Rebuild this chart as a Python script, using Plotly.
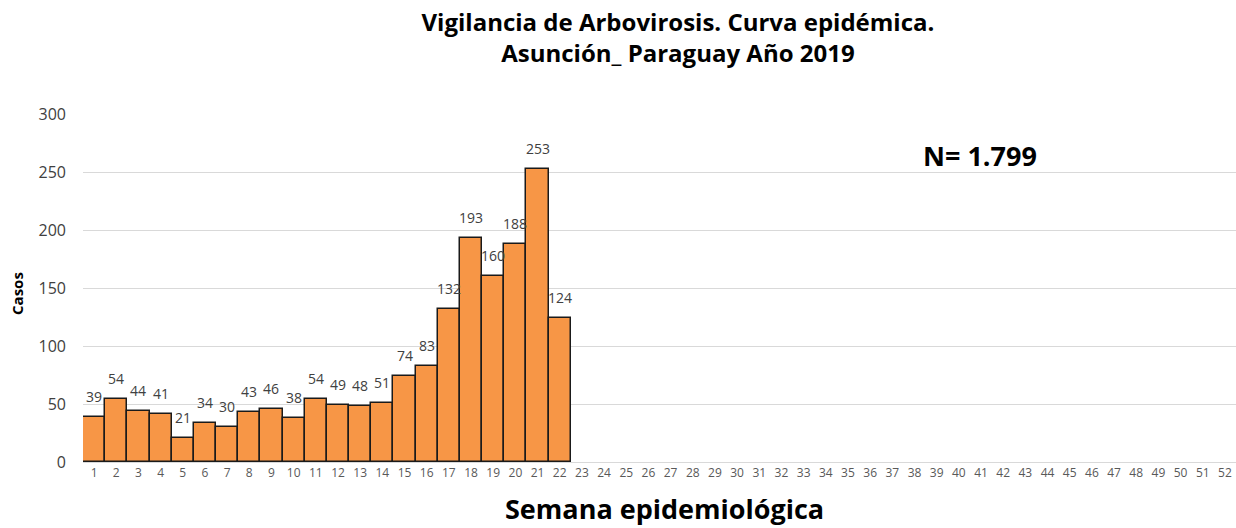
import plotly.graph_objects as go

weeks = [str(i) for i in range(1, 53)]
cases = [39, 54, 44, 41, 21, 34, 30, 43, 46, 38, 54, 49, 48, 51, 74, 83, 132, 193, 160, 188, 253, 124]
y_ticks = [0, 50, 100, 150, 200, 250, 300]

fig = go.Figure()
fig.add_trace(go.Bar(
    x=weeks[:len(cases)], y=cases,
    marker=dict(color="#F79646", line=dict(color="#1a1a1a", width=1.5)),
    cliponaxis=False, hoverinfo="x+y",
))
fig.add_trace(go.Bar(x=weeks, y=[None] * len(weeks), showlegend=False, hoverinfo="skip"))

# on a category axis, annotation x is the category index
label_annotations = [
    dict(x=i, y=v, text=str(v), xref="x", yref="y", yanchor="bottom", xanchor="center",
         yshift=9, showarrow=False,
         font=dict(family="Open Sans", size=14, color="#404040"))
    for i, v in enumerate(cases)
]

fig.update_layout(
    width=1236, height=528,
    margin=dict(l=83, r=0, t=114, b=66),
    paper_bgcolor="white", plot_bgcolor="white",
    showlegend=False, bargap=0, barmode="overlay",
    title=dict(text="Vigilancia de Arbovirosis. Curva epidémica.<br>Asunción_ Paraguay Año 2019",
               x=0.5485, xanchor="center", xref="container", y=0.941, yanchor="top",
               font=dict(family="Open Sans", size=24, color="#000000", weight="bold")),
    xaxis=dict(type="category", categoryorder="array", categoryarray=weeks,
               tickfont=dict(family="Open Sans", size=12, color="#595959"),
               showgrid=False, showline=True, linecolor="#d9d9d9", linewidth=1,
               ticks="", automargin=False),
    yaxis=dict(range=[0, 300], tickvals=y_ticks,
               tickfont=dict(family="Open Sans", size=16, color="#404040"),
               showgrid=True, gridcolor="#d9d9d9", gridwidth=1, zeroline=False,
               ticks="", ticklabelstandoff=16, automargin=False),
    annotations=label_annotations + [
        dict(text="N= 1.799", x=0.778, y=0.882, xref="paper", yref="paper",
             xanchor="center", yanchor="middle", showarrow=False,
             font=dict(family="Open Sans", size=27, color="#000000", weight="bold")),
        dict(text="Semana epidemiológica", x=0.504, y=-0.135, xref="paper", yref="paper",
             xanchor="center", yanchor="middle", showarrow=False,
             font=dict(family="Open Sans", size=27, color="#000000", weight="bold")),
        dict(text="Casos", x=-0.0572, y=0.483, xref="paper", yref="paper", textangle=-90,
             xanchor="center", yanchor="middle", showarrow=False,
             font=dict(family="Open Sans", size=15, color="#000000", weight="bold")),
    ],
)

fig.write_html("out.html", config={"displayModeBar": False},
               post_script="document.body.style.margin='0';document.body.style.overflow='hidden';")
